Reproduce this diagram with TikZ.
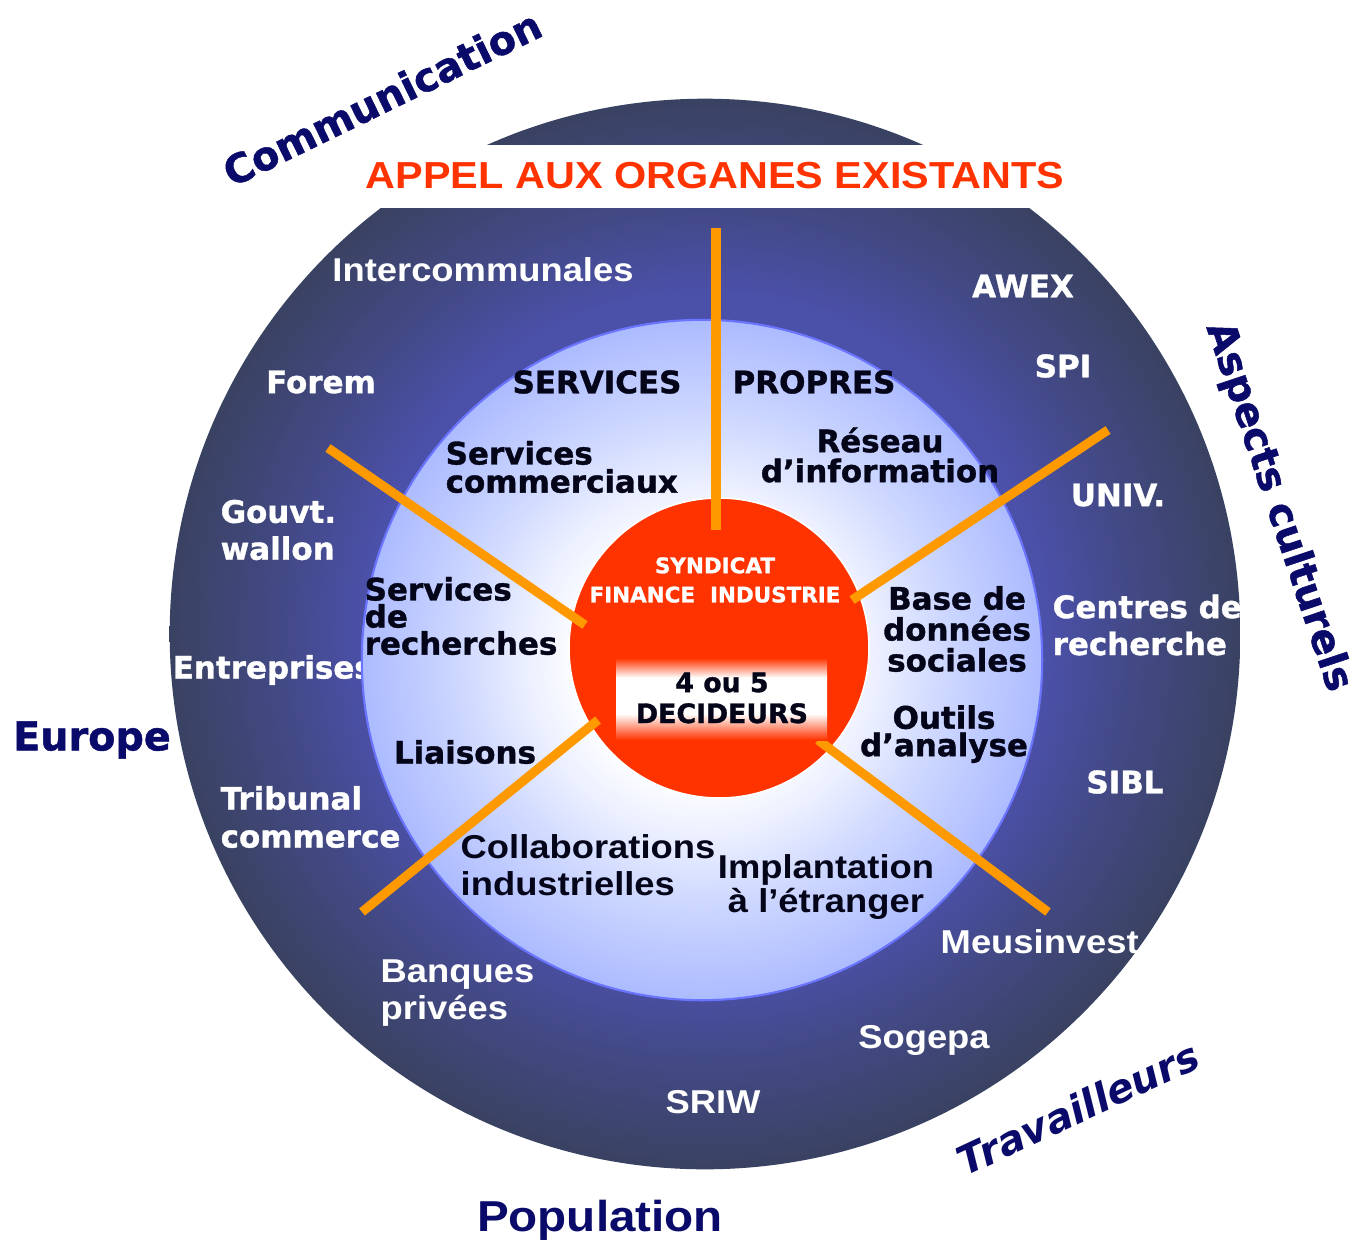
\documentclass[tikz,border=0pt]{standalone}
\usepackage{fontspec}
\usetikzlibrary{positioning}

\newfontfamily\heavyfont{DejaVu Sans}[BoldFeatures={FakeBold=1.2}]
\newfontfamily\plainbold{Liberation Sans}[FakeStretch=1.1]

\definecolor{ringedge}{HTML}{3A4262}
\definecolor{ringmid}{HTML}{4B50A8}
\definecolor{corelight}{HTML}{ACBBFF}
\definecolor{coremid}{HTML}{CDD7FF}
\definecolor{coreline}{HTML}{6A74FF}
\definecolor{hubred}{HTML}{FF3300}
\definecolor{spokeorange}{HTML}{FF9900}
\definecolor{themenavy}{HTML}{0A0A6A}
\definecolor{inkdark}{HTML}{05051A}

\pgfdeclareradialshading{ringshade}{\pgfpoint{0bp}{0bp}}{color(0bp)=(ringmid); color(16bp)=(ringmid); color(20bp)=(ringmid!50!ringedge); color(25bp)=(ringedge); color(50bp)=(ringedge)}
\pgfdeclareradialshading{coreshade}{\pgfpoint{0bp}{0bp}}{color(0bp)=(white); color(9bp)=(white); color(13bp)=(coremid!40!white); color(18bp)=(coremid); color(25bp)=(corelight); color(50bp)=(corelight)}
\pgfdeclareverticalshading{decbar}{100bp}{color(0bp)=(hubred); color(25bp)=(hubred); color(41bp)=(white); color(63bp)=(white); color(75bp)=(hubred); color(100bp)=(hubred)}

\begin{document}
\begin{tikzpicture}[x=0.01cm, y=-0.01cm,
    wtxt/.style={text=white, font=\heavyfont\bfseries\fontsize{8.8}{#1}\selectfont, inner sep=0pt, align=left},
    wtxt/.default=10.5,
    wnar/.style={text=white, font=\plainbold\bfseries\fontsize{9.4}{#1}\selectfont, inner sep=0pt, align=left},
    wnar/.default=10.5,
    ktxt/.style={text=inkdark, font=\heavyfont\bfseries\fontsize{8.8}{#1}\selectfont, inner sep=0pt, align=left},
    ktxt/.default=8.8,
    knar/.style={text=inkdark, font=\plainbold\bfseries\fontsize{9.4}{#1}\selectfont, inner sep=0pt, align=left},
    knar/.default=10.5,
    theme/.style={text=themenavy, font=\heavyfont\bfseries\fontsize{11.3}{13}\selectfont, inner sep=0pt},
    spokeline/.style={spokeorange, line width=2.6pt}]
    \fill[white] (0,0) rectangle (1354,1242);
    \useasboundingbox (0,0) rectangle (1354,1242);

    % Outer ring
    \shade[shading=ringshade] (705,634) circle[radius=5.35cm];

    \node[wnar] (interco) at (483,270) {Intercommunales};
    \node[wtxt] (forem) at (321,382) {Forem};
    \node[wtxt, anchor=west] (gouvt) at (220,530) {Gouvt.\\wallon};
    \node[wtxt, anchor=west] (entrep) at (172,670) {Entreprises};
    \node[wtxt=10.8, anchor=west] (tribunal) at (220,817) {Tribunal\\commerce};
    \node[wnar, anchor=west] (banques) at (380,993) {Banques\\privées};
    \node[wnar] (sriw) at (713,1102) {SRIW};
    \node[wnar] (sogepa) at (924,1040) {Sogepa};
    \node[wnar, anchor=west] (meusinv) at (940,942) {Meusinvest};
    \node[wtxt] (sibl) at (1125,782) {SIBL};
    \node[wtxt, anchor=west] (centres) at (1052,625) {Centres de\\recherche};
    \node[wtxt] (univ) at (1118,495) {UNIV.};
    \node[wtxt] (spi) at (1063,366) {SPI};
    \node[wtxt] (awex) at (1023,286) {AWEX};

    % Banner
    \fill[white] (150,145) rectangle (1260,208);
    \node[text=hubred, font=\plainbold\bfseries\fontsize{10.7}{12}\selectfont, inner sep=0pt] (appel) at (715,176) {APPEL AUX ORGANES EXISTANTS};

    % Inner disc
    \shadedraw[shading=coreshade, draw=coreline, line width=0.6pt] (702,660) circle[radius=3.4cm];

    \node[ktxt] (services) at (597,382) {SERVICES};
    \node[ktxt] (propres) at (814,382) {PROPRES};
    \node[ktxt=8, anchor=west] (commerc) at (445,467) {Services\\commerciaux};
    \node[ktxt=8.5, align=center] (reseau) at (880,455) {Réseau\\d’information};
    \node[ktxt=7.7, anchor=west] (recherch) at (364,616) {Services\\de\\recherches};
    \node[ktxt=8.8, align=center] (base) at (957,629) {Base de\\données\\sociales};
    \node[ktxt=6.8, align=center] (outils) at (944,734) {Outils\\d’analyse};
    \node[ktxt] (liaisons) at (465,752) {Liaisons};
    \node[knar, anchor=west] (collab) at (460,865) {Collaborations\\industrielles};
    \node[knar=8.8, align=center] (implant) at (826,887) {Implantation\\à l’étranger};

    % Hub
    \filldraw[fill=hubred, draw=white, line width=0.5pt] (719,648) circle[radius=1.5cm];

    % Spokes
    \coordinate (n out) at (716,228);  \coordinate (n in) at (716,530);
    \coordinate (ne out) at (1108,430); \coordinate (ne in) at (852,600);
    \coordinate (nw out) at (328,448);  \coordinate (nw in) at (585,625);
    \coordinate (sw out) at (362,912);  \coordinate (sw in) at (598,720);
    \coordinate (se out) at (1048,912); \coordinate (se in) at (818,740);
    \foreach \s in {n,ne,nw,sw,se}
        \draw[spokeline] (\s\space out) -- (\s\space in);

    \shade[shading=decbar] (616,658) rectangle (827,740);
    \node[text=white, font=\heavyfont\bfseries\fontsize{6.1}{8.3}\selectfont, align=center, inner sep=0pt] (syndic) at (715,580) {SYNDICAT\\FINANCE\ \ INDUSTRIE};
    \node[text=inkdark, font=\heavyfont\bfseries\fontsize{7.6}{8.8}\selectfont, align=center, inner sep=0pt] (decid) at (722,698) {4 ou 5\\DECIDEURS};

    % Themes
    \node[theme, rotate=26] (commun) at (382,98) {Communication};
    \node[theme] (europe) at (92,740) {Europe};
    \node[theme, rotate=-71.5] (aspects) at (1278,507) {Aspects culturels};
    \node[theme, font=\heavyfont\bfseries\itshape\fontsize{11.3}{13}\selectfont, rotate=25] (travail) at (1078,1108) {Travailleurs};
    \node[theme, font=\plainbold\bfseries\fontsize{12.3}{14}\selectfont] (popul) at (600,1220) {Population};
\end{tikzpicture}
\end{document}
